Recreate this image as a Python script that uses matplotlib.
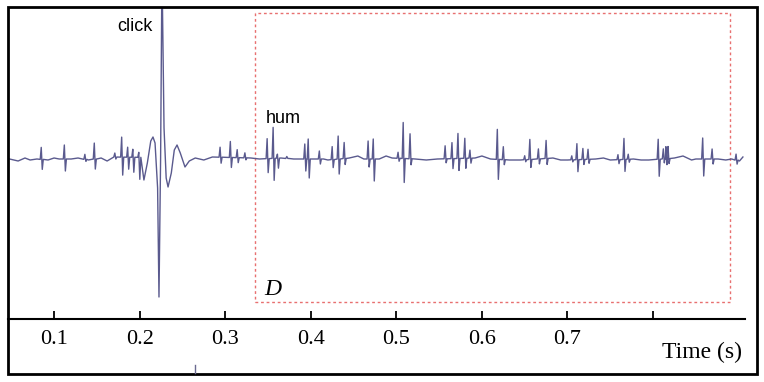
import numpy as np
import matplotlib
matplotlib.use('Agg')
import matplotlib.pyplot as plt
from matplotlib.patches import Rectangle
from matplotlib.lines import Line2D

W, H = 764, 382

# spikes: time (s), height above baseline, depth below
spike_t = [0.085, 0.112, 0.136, 0.147, 0.171, 0.179, 0.186, 0.192, 0.199,
           0.294, 0.306, 0.314, 0.323,
           0.349, 0.356, 0.361, 0.372, 0.393, 0.397, 0.410, 0.425, 0.432, 0.439,
           0.467, 0.473, 0.502, 0.508, 0.516, 0.557, 0.565, 0.572, 0.580, 0.586,
           0.618, 0.625, 0.650, 0.656, 0.666, 0.675, 0.705, 0.711, 0.718, 0.724,
           0.759, 0.766, 0.771, 0.806, 0.812, 0.815, 0.8175, 0.858, 0.869, 0.897]
spike_up = [0.12, 0.14, 0.05, 0.16, 0.04, 0.20, 0.10, 0.08, 0.05,
            0.10, 0.16, 0.08, 0.05,
            0.20, 0.31, 0.04, 0.02, 0.15, 0.20, 0.08, 0.13, 0.23, 0.16,
            0.18, 0.20, 0.06, 0.36, 0.25, 0.13, 0.16, 0.25, 0.20, 0.08,
            0.30, 0.13, 0.04, 0.20, 0.10, 0.18, 0.04, 0.16, 0.11, 0.10,
            0.05, 0.21, 0.05, 0.20, 0.10, 0.12, 0.12, 0.21, 0.10, 0.06]
spike_dn = [0.10, 0.12, 0.02, 0.10, 0.02, 0.18, 0.12, 0.15, 0.22,
            0.06, 0.10, 0.05, 0.02,
            0.14, 0.22, 0.10, 0.00, 0.12, 0.19, 0.05, 0.08, 0.15, 0.06,
            0.08, 0.22, 0.03, 0.24, 0.06, 0.04, 0.10, 0.12, 0.10, 0.05,
            0.20, 0.05, 0.02, 0.08, 0.05, 0.06, 0.02, 0.12, 0.05, 0.04,
            0.04, 0.12, 0.03, 0.17, 0.04, 0.06, 0.05, 0.17, 0.05, 0.04]

# slow baseline wander
base_t = [0.048, 0.058, 0.066, 0.072, 0.080, 0.093, 0.100, 0.106, 0.120, 0.128,
          0.140, 0.155, 0.162, 0.168, 0.265, 0.275, 0.285, 0.330, 0.340, 0.365,
          0.380, 0.387, 0.415, 0.420, 0.445, 0.455, 0.462, 0.480, 0.488,
          0.495, 0.522, 0.535, 0.548, 0.592, 0.600, 0.610, 0.632, 0.645, 0.683,
          0.692, 0.700, 0.733, 0.742, 0.750, 0.777, 0.786, 0.795, 0.825, 0.835,
          0.845, 0.850, 0.876, 0.885, 0.892, 0.901, 0.905]
base_y = [-0.01, -0.03, 0.00, -0.02, -0.01, -0.02, 0.00, -0.01, -0.01, 0.00,
          -0.02, 0.00, -0.03, 0.01, 0.00, -0.02, 0.01, 0.00, -0.01, 0.00,
          -0.01, -0.01, -0.01, -0.02, 0.00, 0.02, -0.01, -0.01, 0.02,
          0.00, -0.01, -0.02, -0.01, 0.00, 0.02, -0.01, -0.02, -0.02, 0.00,
          -0.02, -0.02, -0.01, 0.00, -0.02, -0.01, -0.02, -0.02, 0.00, 0.02,
          -0.02, -0.01, -0.01, -0.02, -0.01, -0.03, 0.01]

# the click transient
click_t = [0.205, 0.209, 0.213, 0.2156, 0.218, 0.221, 0.2226, 0.2245, 0.2261,
           0.2285, 0.2310, 0.2332, 0.2370, 0.2405, 0.2437, 0.2475, 0.2530,
           0.2580, 0.2650]
click_y = [-0.22, -0.05, 0.17, 0.21, 0.15, -0.30, -1.39, 0.00, 1.90,
           0.30, -0.20, -0.29, -0.15, 0.08, 0.13, 0.05, -0.09, -0.03, 0.00]

ticks = [0.1, 0.2, 0.3, 0.4, 0.5, 0.6, 0.7, 0.8]
tick_labels = ['0.1', '0.2', '0.3', '0.4', '0.5', '0.6', '0.7', '']

# assemble the trace
d = 0.0012
pts = []
for t, b in zip(base_t, base_y):
    if click_t[0] <= t <= click_t[-1]:
        continue
    if any(abs(t - s) < 3 * d for s in spike_t):
        continue
    pts.append((t, b))
for s, u, dn in zip(spike_t, spike_up, spike_dn):
    b = np.interp(s, base_t, base_y)
    pts += [(s - d, b), (s, b + u), (s + d, b - dn), (s + 2 * d, b)]
pts += list(zip(click_t, click_y))
pts.sort()
tx = np.array([p[0] for p in pts])
ty = np.array([p[1] for p in pts])


def px2t(px):
    return (px + 31.5) / 855.7


def py2a(py):
    return (158 - py) / 100.0


fig = plt.figure(figsize=(W / 100, H / 100), dpi=100)
ax = fig.add_axes([8 / W, (H - 319) / H, (745 - 8) / W, (319 - 7) / H])
ax.plot(tx, ty, color='#5a5a8e', lw=1.0)
ax.set_xlim(px2t(8), px2t(745))
ax.set_ylim(py2a(319), py2a(7))

for s in ['left', 'right', 'top']:
    ax.spines[s].set_visible(False)
ax.spines['bottom'].set_linewidth(1.5)
ax.set_yticks([])
ax.set_xticks(ticks)
ax.set_xticklabels(tick_labels, family='Liberation Serif', fontsize=16)
ax.tick_params(axis='x', direction='in', length=6, width=1.3, pad=8)

ax.add_patch(Rectangle((px2t(255), py2a(302)), px2t(730) - px2t(255),
                       py2a(13) - py2a(302), fill=False, ec='#e87070',
                       lw=1.0, ls=(0, (2, 2))))

ax.text(px2t(117), py2a(31), 'click', family='Liberation Sans', fontsize=13,
        va='baseline')
ax.text(px2t(266), py2a(123), 'hum', family='Liberation Sans', fontsize=13,
        va='baseline')
ax.text(px2t(264), py2a(295), 'D', family='Liberation Serif', style='italic',
        fontsize=17, va='baseline')

fig.text(742 / W, 1 - 358 / H, 'Time (s)', family='Liberation Serif',
         fontsize=17, ha='right', va='baseline')

# small stray mark near the bottom
fig.add_artist(Line2D([195 / W, 195 / W], [1 - 373 / H, 1 - 365 / H],
                      color='#6a6a90', lw=1.0))

fig.add_artist(Rectangle((8 / W, 1 - 374 / H), (757 - 8) / W, (374 - 7) / H,
                         fill=False, ec='black', lw=2.0,
                         transform=fig.transFigure))

fig.savefig('out.png', dpi=100)
